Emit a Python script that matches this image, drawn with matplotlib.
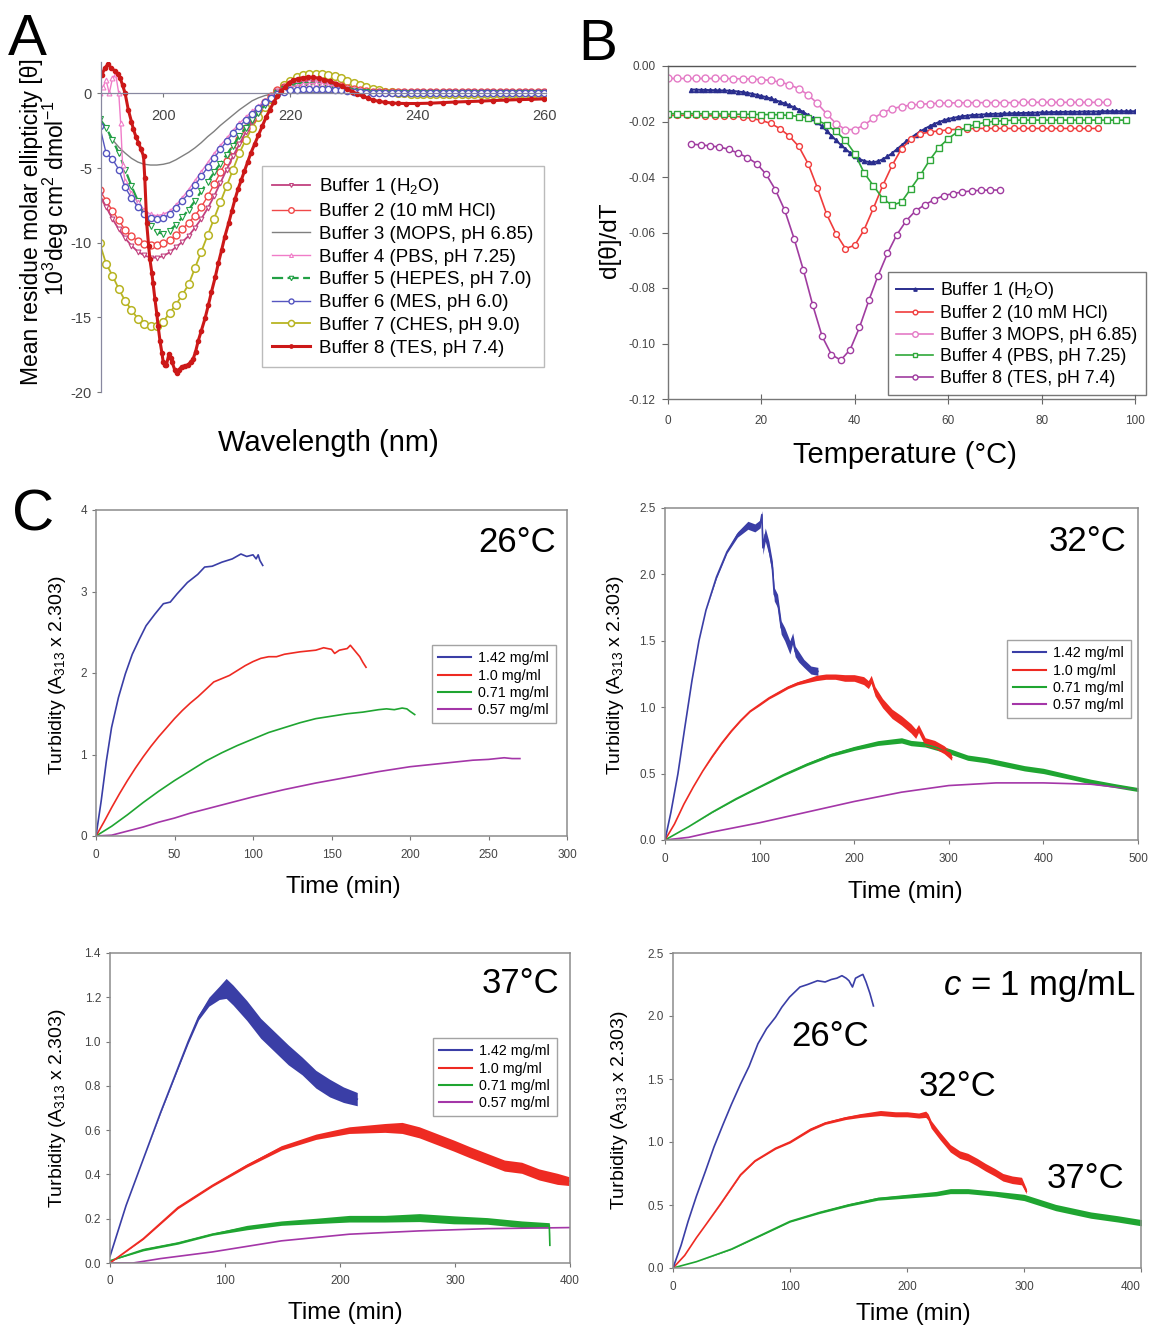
import numpy as np
import matplotlib
matplotlib.use('Agg')
import matplotlib.pyplot as plt
from matplotlib.lines import Line2D
from matplotlib.ticker import FormatStrFormatter

plt.rcParams['font.family'] = ['Liberation Sans', 'DejaVu Sans']
plt.rcParams['axes.unicode_minus'] = False
plt.rcParams['mathtext.fontset'] = 'custom'
plt.rcParams['mathtext.rm'] = 'Liberation Sans'
plt.rcParams['mathtext.it'] = 'Liberation Sans:italic'
plt.rcParams['mathtext.bf'] = 'Liberation Sans:bold'

# ---------------- Panel A data (CD spectra) ----------------
wavelength = np.arange(190, 261)
a_labels = ['Buffer 1 (H$_2$O)', 'Buffer 2 (10 mM HCl)', 'Buffer 3 (MOPS, pH 6.85)',
            'Buffer 4 (PBS, pH 7.25)', 'Buffer 5 (HEPES, pH 7.0)', 'Buffer 6 (MES, pH 6.0)',
            'Buffer 7 (CHES, pH 9.0)', 'Buffer 8 (TES, pH 7.4)']
a_buf1 = [-6.8, -7.6, -8.4, -9.1, -9.7, -10.2, -10.6, -10.85, -11.0, -11.0,
          -10.9, -10.65, -10.3, -9.95, -9.55, -9.0, -8.4, -7.7, -6.9, -6.0,
          -5.1, -4.2, -3.4, -2.6, -1.9, -1.3, -0.7, -0.25, 0.15, 0.4,
          0.55, 0.65, 0.72, 0.75, 0.75, 0.7, 0.62, 0.52, 0.42, 0.32,
          0.24, 0.16, 0.11, 0.08, 0.06, 0.05, 0.05, 0.05, 0.06, 0.06,
          0.06, 0.06, 0.07, 0.07, 0.07, 0.07, 0.07, 0.08, 0.08, 0.08,
          0.08, 0.08, 0.08, 0.08, 0.08, 0.09, 0.09, 0.09, 0.09, 0.09, 0.09]
a_buf2 = [-6.45, -7.2, -7.85, -8.5, -9.15, -9.55, -9.9, -10.1, -10.15, -10.15,
          -10.05, -9.85, -9.5, -9.1, -8.65, -8.2, -7.6, -6.9, -6.1, -5.3,
          -4.5, -3.8, -3.05, -2.35, -1.7, -1.1, -0.6, -0.15, 0.2, 0.45,
          0.62, 0.72, 0.78, 0.8, 0.8, 0.75, 0.68, 0.58, 0.48, 0.38,
          0.28, 0.2, 0.14, 0.1, 0.08, 0.07, 0.07, 0.07, 0.08, 0.08,
          0.08, 0.08, 0.09, 0.09, 0.09, 0.09, 0.09, 0.1, 0.1, 0.1,
          0.1, 0.1, 0.1, 0.1, 0.1, 0.11, 0.11, 0.11, 0.11, 0.11, 0.11]
a_buf3_wl = [191.5, 192, 193, 194, 195, 196, 197, 198, 199, 200, 201, 202, 203, 204, 205,
             206, 207, 208, 209, 210, 211, 212, 213, 214, 215, 216, 217, 218, 220, 225,
             230, 240, 250, 260]
a_buf3 = [-2.8, -3.1, -3.6, -4.0, -4.35, -4.6, -4.75, -4.8, -4.8, -4.75, -4.65, -4.45, -4.2,
          -3.95, -3.65, -3.3, -2.9, -2.55, -2.15, -1.8, -1.45, -1.1, -0.8, -0.5, -0.3, -0.15,
          -0.05, 0.0, 0.02, 0.05, 0.03, 0.02, 0.02, 0.02]
a_buf4_wl = [190, 190.5, 191, 191.5, 192, 192.5, 193, 193.3, 193.6] + list(range(194, 261))
a_buf4 = [0.0, 0.4, 0.9, 0.0, 1.0, 1.3, 0.0, -2.0, -4.8,
          -5.9, -6.7, -7.3, -7.8, -8.1, -8.2,
          -8.1, -7.9, -7.5, -7.0, -6.45, -5.85, -5.25, -4.65, -4.05, -3.5,
          -3.0, -2.5, -2.0, -1.6, -1.2, -0.85, -0.5, -0.2, 0.1, 0.28,
          0.42, 0.52, 0.6, 0.65, 0.68, 0.65, 0.58, 0.48, 0.38, 0.28,
          0.2, 0.14, 0.1, 0.07, 0.06, 0.06, 0.06, 0.06, 0.07, 0.07,
          0.07, 0.07, 0.07, 0.07, 0.07, 0.07, 0.07, 0.07, 0.07, 0.07,
          0.08, 0.08, 0.08, 0.08, 0.08, 0.08, 0.08, 0.08, 0.08, 0.08, 0.08]
a_buf5 = [-1.7, -2.3, -3.1, -4.0, -5.1, -6.2, -7.2, -8.1, -8.85, -9.3,
          -9.4, -9.2, -8.8, -8.3, -7.8, -7.2, -6.55, -5.95, -5.3, -4.7,
          -4.1, -3.5, -2.85, -2.3, -1.8, -1.3, -0.8, -0.35, 0.05, 0.3,
          0.45, 0.52, 0.56, 0.57, 0.56, 0.52, 0.45, 0.38, 0.3, 0.22,
          0.16, 0.11, 0.08, 0.05, 0.04, 0.03, 0.03, 0.03, 0.03, 0.03,
          0.03, 0.03, 0.03, 0.03, 0.03, 0.03, 0.03, 0.03, 0.03, 0.03,
          0.03, 0.03, 0.03, 0.03, 0.03, 0.03, 0.03, 0.03, 0.03, 0.03, 0.03]
a_buf6 = [-2.2, -4.0, -4.4, -5.1, -6.3, -7.0, -7.6, -8.05, -8.35, -8.4,
          -8.35, -8.1, -7.65, -7.2, -6.7, -6.15, -5.55, -4.95, -4.35, -3.75,
          -3.2, -2.65, -2.2, -1.8, -1.35, -0.95, -0.6, -0.3, -0.05, 0.1,
          0.2, 0.25, 0.28, 0.3, 0.3, 0.3, 0.28, 0.25, 0.2, 0.15,
          0.1, 0.07, 0.05, 0.04, 0.03, 0.03, 0.03, 0.03, 0.03, 0.03,
          0.03, 0.03, 0.03, 0.04, 0.04, 0.04, 0.04, 0.04, 0.04, 0.04,
          0.04, 0.04, 0.04, 0.04, 0.04, 0.04, 0.04, 0.04, 0.04, 0.04, 0.04]
a_buf7 = [-10.05, -11.4, -12.2, -13.1, -13.9, -14.5, -15.1, -15.45, -15.6, -15.6,
          -15.3, -14.7, -14.15, -13.5, -12.8, -11.7, -10.6, -9.5, -8.4, -7.3,
          -6.2, -5.1, -4.0, -3.1, -2.3, -1.55, -0.9, -0.35, 0.15, 0.55,
          0.85, 1.07, 1.2, 1.27, 1.3, 1.28, 1.23, 1.13, 1.0, 0.86,
          0.7, 0.55, 0.42, 0.3, 0.2, 0.12, 0.06, 0.02, 0.0, -0.02,
          -0.03, -0.03, -0.03, -0.03, -0.03, -0.02, -0.02, -0.02, -0.02, -0.02,
          -0.02, -0.02, -0.02, -0.01, -0.01, -0.01, -0.01, -0.01, -0.01, -0.01, -0.01]
a_buf8_wl = [190.3, 190.8, 191.3, 191.8, 192.4, 192.9, 193.2, 193.6, 194.0, 194.5, 195.0, 195.3,
             195.7, 196.1, 196.5, 196.9, 197.1, 197.4, 197.7, 197.9, 198.2, 198.4, 198.7, 199.0,
             199.2, 199.5, 199.8, 200.0, 200.3, 200.5, 200.9, 201.2, 201.4, 201.8, 202.1, 202.5,
             202.9, 203.4, 203.9, 204.3, 204.7, 205.1, 205.5, 206.0, 206.6, 207.1, 207.6, 208.2,
             208.7, 209.2, 209.7, 210.3, 210.8, 211.3, 211.8, 212.3, 212.8, 213.3, 213.8, 214.4,
             215.0, 215.6, 216.2, 216.8, 217.4, 218.0, 218.6, 219.2, 219.8, 220.5, 221.2, 222.0,
             222.8, 223.6, 224.5, 225.4, 226.3, 227.2, 228.1, 229.0, 229.8, 230.6, 231.5, 232.3,
             233.1, 234.0, 235.0, 236.0, 237.0, 238.3, 240, 242, 244, 246, 248, 250, 252, 254,
             256, 258, 260]
a_buf8 = [1.2, 1.7, 1.95, 1.7, 1.5, 1.3, 1.05, 0.55, 0.0, -1.1, -1.9, -2.4,
          -2.9, -3.3, -3.75, -4.2, -5.7, -8.7, -10.2, -11.1, -12.0, -12.7, -13.8, -14.8,
          -15.6, -16.6, -17.4, -18.0, -18.2, -18.2, -17.45, -17.7, -18.0, -18.5, -18.75, -18.5,
          -18.3, -18.25, -18.2, -18.0, -17.8, -17.3, -16.6, -15.9, -15.05, -14.2, -13.3, -12.3,
          -11.35, -10.5, -9.6, -8.7, -7.9, -7.1, -6.4, -5.8, -5.2, -4.6, -4.0, -3.4,
          -2.8, -2.2, -1.6, -1.1, -0.6, -0.2, 0.15, 0.45, 0.7, 0.88, 0.98, 1.05,
          1.08, 1.07, 1.02, 0.92, 0.8, 0.65, 0.48, 0.3, 0.12, -0.05, -0.2, -0.33,
          -0.45, -0.54, -0.6, -0.64, -0.67, -0.68, -0.68, -0.66, -0.62, -0.58, -0.55, -0.52, -0.48, -0.45,
          -0.42, -0.4, -0.37]

# ---------------- Panel B data (d[theta]/dT) ----------------
b_labels = ['Buffer 1 (H$_2$O)', 'Buffer 2 (10 mM HCl)', 'Buffer 3 MOPS, pH 6.85)',
            'Buffer 4 (PBS, pH 7.25)', 'Buffer 8 (TES, pH 7.4)']
b_t1 = np.arange(5, 101)
b_buf1 = [-0.0085, -0.0085, -0.0086, -0.0086, -0.0087, -0.0087, -0.0088, -0.0088, -0.0089, -0.0090,
          -0.0092, -0.0094, -0.0097, -0.0100, -0.0104, -0.0108, -0.0112, -0.0117, -0.0123, -0.0129,
          -0.0135, -0.0142, -0.0149, -0.0157, -0.0166, -0.0177, -0.0189, -0.0203, -0.0218, -0.0234,
          -0.0251, -0.0268, -0.0284, -0.0299, -0.0313, -0.0325, -0.0335, -0.0342, -0.0346, -0.0347,
          -0.0343, -0.0336, -0.0326, -0.0314, -0.0300, -0.0286, -0.0272, -0.0259, -0.0247, -0.0236,
          -0.0226, -0.0217, -0.0209, -0.0202, -0.0196, -0.0191, -0.0187, -0.0184, -0.0181, -0.0179,
          -0.0177, -0.0176, -0.0175, -0.0174, -0.0173, -0.0172, -0.0172, -0.0171, -0.0171, -0.0170,
          -0.0170, -0.0169, -0.0169, -0.0168, -0.0168, -0.0167, -0.0167, -0.0166, -0.0166, -0.0166,
          -0.0165, -0.0165, -0.0165, -0.0165, -0.0164, -0.0164, -0.0164, -0.0164, -0.0163, -0.0163,
          -0.0163, -0.0163, -0.0163, -0.0163, -0.0163, -0.0163]
b_t2 = np.arange(0, 93, 2)
b_buf2 = [-0.0178, -0.0178, -0.0178, -0.0178, -0.0179, -0.0179, -0.0180, -0.0181, -0.0184, -0.0189,
          -0.0196, -0.0207, -0.0226, -0.0253, -0.0290, -0.0352, -0.0440, -0.0535, -0.0605, -0.0658,
          -0.0646, -0.0590, -0.0512, -0.0430, -0.0358, -0.0298, -0.0264, -0.0245, -0.0238, -0.0234,
          -0.0230, -0.0228, -0.0226, -0.0225, -0.0225, -0.0225, -0.0225, -0.0225, -0.0225, -0.0225,
          -0.0225, -0.0225, -0.0225, -0.0225, -0.0225, -0.0225, -0.0225]
b_t3 = np.arange(0, 95, 2)
b_buf3 = [-0.0045, -0.0045, -0.0045, -0.0045, -0.0045, -0.0045, -0.0045, -0.0046, -0.0046, -0.0047,
          -0.0049, -0.0052, -0.0058, -0.0067, -0.0082, -0.0104, -0.0135, -0.0173, -0.0208, -0.0229,
          -0.0229, -0.0213, -0.0188, -0.0168, -0.0154, -0.0146, -0.0141, -0.0138, -0.0136, -0.0134,
          -0.0133, -0.0133, -0.0132, -0.0132, -0.0132, -0.0132, -0.0132, -0.0132, -0.0131, -0.0131,
          -0.0131, -0.0131, -0.0131, -0.0131, -0.0131, -0.0131, -0.0131, -0.0131]
b_t4 = np.arange(0, 99, 2)
b_buf4 = [-0.0172, -0.0172, -0.0172, -0.0172, -0.0173, -0.0173, -0.0173, -0.0174, -0.0174, -0.0174,
          -0.0175, -0.0175, -0.0176, -0.0178, -0.0182, -0.0187, -0.0196, -0.0212, -0.0236, -0.0268,
          -0.0316, -0.0385, -0.0432, -0.0478, -0.0502, -0.0490, -0.0442, -0.0394, -0.0340, -0.0294,
          -0.0262, -0.0237, -0.0220, -0.0210, -0.0203, -0.0199, -0.0197, -0.0195, -0.0195, -0.0195,
          -0.0195, -0.0195, -0.0195, -0.0195, -0.0195, -0.0195, -0.0195, -0.0195, -0.0195, -0.0195]
b_t8 = np.arange(5, 72, 2)
b_buf8 = [-0.0282, -0.0284, -0.0288, -0.0292, -0.0300, -0.0314, -0.0330, -0.0352, -0.0390, -0.0446,
          -0.0520, -0.0622, -0.0736, -0.0862, -0.0974, -0.1040, -0.1060, -0.1022, -0.0942, -0.0845,
          -0.0755, -0.0675, -0.0608, -0.0558, -0.0522, -0.0500, -0.0482, -0.0467, -0.0460, -0.0454,
          -0.0450, -0.0448, -0.0447, -0.0447]

# ---------------- Panel C data (turbidity) ----------------
c_labels = ['1.42 mg/ml', '1.0 mg/ml', '0.71 mg/ml', '0.57 mg/ml']
# 26 C
c1_t_blue = [0, 3.3, 6.6, 9.9, 14.3, 18.7, 23.1, 27.5, 31.9, 37.4, 42.9, 47.3, 51.6, 58.2, 64.8,
             69.2, 74, 80.2, 86.8, 92.3, 96, 100, 102, 103.3, 104.4, 106.2]
c1_v_blue = [0, 0.43, 0.92, 1.33, 1.7, 1.99, 2.23, 2.41, 2.58, 2.72, 2.85, 2.87, 2.97, 3.11, 3.21,
             3.30, 3.31, 3.36, 3.40, 3.46, 3.43, 3.45, 3.40, 3.45, 3.38, 3.32]
c1_t_red = [0, 5, 10, 15, 20, 25, 30, 35, 40, 45, 50, 55, 60, 65, 70, 75, 80, 85, 90, 95, 100, 105,
            110, 115, 120, 130, 140, 145, 150, 152, 155, 160, 162, 165, 168, 170, 172]
c1_v_red = [0, 0.17, 0.35, 0.52, 0.68, 0.83, 0.97, 1.1, 1.22, 1.33, 1.44, 1.54, 1.63, 1.71, 1.8,
            1.89, 1.93, 1.97, 2.03, 2.09, 2.14, 2.18, 2.2, 2.2, 2.23, 2.26, 2.28, 2.31, 2.29, 2.24,
            2.28, 2.3, 2.34, 2.27, 2.2, 2.13, 2.07]
c1_t_green = [0, 10, 20, 30, 40, 50, 60, 70, 80, 90, 100, 110, 120, 130, 140, 150, 160, 170, 180,
              185, 190, 195, 198, 200, 203]
c1_v_green = [0, 0.12, 0.26, 0.41, 0.55, 0.68, 0.8, 0.92, 1.02, 1.11, 1.19, 1.27, 1.33, 1.39, 1.44,
              1.47, 1.5, 1.52, 1.55, 1.56, 1.55, 1.57, 1.56, 1.53, 1.49]
c1_t_purple = [0, 10, 20, 30, 40, 50, 60, 70, 80, 90, 100, 120, 140, 160, 180, 200, 220, 240, 250,
               260, 265, 270]
c1_v_purple = [0, 0.01, 0.06, 0.11, 0.17, 0.22, 0.28, 0.33, 0.38, 0.43, 0.48, 0.57, 0.65, 0.72,
               0.79, 0.85, 0.89, 0.93, 0.94, 0.96, 0.95, 0.95]
# 32 C
c2_t_blue = [0, 6.3, 13.7, 21, 28.5, 35.9, 43.3, 54.4, 65.5, 76.6, 87.6, 95, 100.6, 102.4, 103.5,
             106, 109.8, 113.5, 115.5, 119, 122.8, 126.5, 132, 135, 137.6, 141.3, 146.8, 154.2, 161.6]
c2_v_blue = [0, 0.21, 0.5, 0.85, 1.2, 1.5, 1.73, 1.98, 2.17, 2.3, 2.37, 2.35, 2.38, 2.45, 2.2,
             2.3, 2.2, 2.05, 1.85, 1.8, 1.6, 1.55, 1.45, 1.52, 1.42, 1.38, 1.33, 1.28, 1.27]
c2_n_blue = [0, 0, 0, 0, 0, 0, 0, 0.01, 0.01, 0.02, 0.03, 0.03, 0.03, 0.03, 0.05,
             0.05, 0.05, 0.05, 0.05, 0.05, 0.05, 0.05, 0.05, 0.04, 0.04, 0.04, 0.03, 0.03, 0.03]
c2_t_red = [0, 10, 20, 30, 40, 50, 60, 70, 80, 90, 100, 110, 120, 130, 140, 150, 160, 170, 180, 190,
            200, 210, 215, 218, 222, 230, 240, 250, 260, 265, 268, 275, 285, 295, 300, 303]
c2_v_red = [0, 0.12, 0.27, 0.4, 0.52, 0.63, 0.73, 0.82, 0.9, 0.97, 1.02, 1.07, 1.11, 1.15, 1.18,
            1.2, 1.22, 1.23, 1.23, 1.22, 1.22, 1.2, 1.17, 1.21, 1.12, 1.03, 0.95, 0.9, 0.84, 0.8,
            0.84, 0.74, 0.72, 0.68, 0.65, 0.62]
c2_n_red = [0, 0, 0, 0, 0, 0.005, 0.005, 0.005, 0.005, 0.005, 0.008, 0.008, 0.01, 0.01, 0.012,
            0.015, 0.02, 0.02, 0.02, 0.025, 0.025, 0.03, 0.03, 0.03, 0.035, 0.035, 0.035, 0.035,
            0.035, 0.035, 0.03, 0.03, 0.03, 0.03, 0.03, 0.02]
c2_t_green = [0, 25, 50, 75, 100, 125, 150, 175, 200, 225, 250, 260, 275, 300, 320, 340, 360, 380,
              400, 425, 450, 475, 500]
c2_v_green = [0, 0.1, 0.21, 0.31, 0.4, 0.49, 0.57, 0.64, 0.69, 0.73, 0.75, 0.73, 0.72, 0.67, 0.62,
              0.6, 0.57, 0.54, 0.52, 0.48, 0.44, 0.41, 0.38]
c2_n_green = [0, 0, 0.003, 0.005, 0.005, 0.008, 0.01, 0.012, 0.015, 0.018, 0.02, 0.02, 0.02, 0.02,
              0.02, 0.02, 0.02, 0.02, 0.02, 0.018, 0.018, 0.015, 0.015]
c2_t_purple = [0, 25, 50, 100, 150, 200, 250, 300, 350, 400, 450, 500]
c2_v_purple = [0, 0.02, 0.06, 0.13, 0.21, 0.29, 0.36, 0.41, 0.43, 0.43, 0.42, 0.38]
# 37 C
c3_t_blue = [0, 14, 29, 44, 59, 68, 77, 86, 95, 101, 107, 119, 131, 143, 155, 167, 179, 191, 203, 215]
c3_v_blue = [0.03, 0.26, 0.47, 0.68, 0.88, 1.0, 1.11, 1.18, 1.22, 1.24, 1.21, 1.14, 1.06, 1.0, 0.94,
             0.89, 0.83, 0.79, 0.76, 0.74]
c3_n_blue = [0, 0, 0, 0.003, 0.005, 0.008, 0.012, 0.02, 0.03, 0.045, 0.045, 0.045, 0.045, 0.045,
             0.045, 0.04, 0.04, 0.04, 0.035, 0.03]
c3_t_red = [0, 29, 59, 89, 119, 149, 179, 208, 239, 254, 269, 284, 299, 313, 328, 343, 358, 373, 389, 399]
c3_v_red = [0, 0.11, 0.25, 0.35, 0.44, 0.52, 0.57, 0.6, 0.61, 0.61, 0.59, 0.56, 0.53, 0.5, 0.47,
            0.44, 0.43, 0.4, 0.38, 0.37]
c3_n_red = [0, 0.003, 0.005, 0.005, 0.007, 0.01, 0.012, 0.015, 0.02, 0.025, 0.025, 0.025, 0.025,
            0.025, 0.025, 0.025, 0.025, 0.025, 0.025, 0.02]
c3_t_green = [0, 29, 59, 89, 119, 149, 179, 208, 239, 269, 299, 328, 358, 382, 382.5]
c3_v_green = [0.01, 0.06, 0.09, 0.13, 0.16, 0.18, 0.19, 0.2, 0.2, 0.205, 0.195, 0.19, 0.175, 0.17, 0.08]
c3_n_green = [0, 0.005, 0.005, 0.005, 0.01, 0.01, 0.012, 0.015, 0.015, 0.018, 0.018, 0.015, 0.015,
              0.012, 0]
c3_t_purple = [0, 20, 44, 89, 149, 208, 269, 328, 400]
c3_v_purple = [0, 0, 0.02, 0.05, 0.1, 0.13, 0.145, 0.155, 0.16]
# c = 1 mg/mL at three temperatures
c4_t_26 = [0, 6.9, 12.9, 20, 27.8, 35, 42.8, 50, 57.7, 65, 72.6, 80, 87.6, 93, 99.6, 108.5, 115,
           123.5, 130, 135.4, 140, 144.4, 148, 150.4, 153.4, 156, 160, 162.3, 165, 168.3, 171.3]
c4_v_26 = [0, 0.18, 0.37, 0.57, 0.77, 0.96, 1.14, 1.3, 1.46, 1.6, 1.78, 1.9, 1.99, 2.07, 2.15,
           2.23, 2.25, 2.28, 2.27, 2.29, 2.3, 2.32, 2.3, 2.28, 2.23, 2.3, 2.32, 2.33, 2.27, 2.18, 2.08]
c4_t_32 = [0, 10, 20, 27.8, 40, 57.7, 70, 87.6, 100, 117.5, 130, 147.4, 160, 177.3, 190, 200, 210,
           216, 218, 220.6, 228, 237, 245, 252, 260, 267, 275, 282, 290, 297.9, 302]
c4_v_32 = [0, 0.1, 0.24, 0.34, 0.5, 0.74, 0.85, 0.95, 1.0, 1.1, 1.15, 1.19, 1.21, 1.23, 1.22, 1.22,
           1.21, 1.22, 1.2, 1.14, 1.05, 0.95, 0.9, 0.88, 0.84, 0.8, 0.76, 0.72, 0.7, 0.69, 0.61]
c4_n_32 = [0, 0, 0, 0, 0.003, 0.005, 0.005, 0.007, 0.008, 0.01, 0.01, 0.012, 0.015, 0.02, 0.02,
           0.02, 0.02, 0.025, 0.025, 0.03, 0.03, 0.03, 0.03, 0.03, 0.03, 0.03, 0.03, 0.03, 0.03,
           0.03, 0.02]
c4_t_37 = [0, 20, 50, 75, 100, 125, 150, 175, 200, 225, 237, 252, 275, 300, 327, 357, 380, 400, 405]
c4_v_37 = [0, 0.05, 0.15, 0.26, 0.37, 0.44, 0.5, 0.55, 0.57, 0.59, 0.61, 0.61, 0.59, 0.56, 0.48,
           0.42, 0.39, 0.36, 0.37]
c4_n_37 = [0, 0, 0.003, 0.005, 0.006, 0.008, 0.01, 0.012, 0.015, 0.018, 0.02, 0.02, 0.02, 0.025,
           0.025, 0.025, 0.025, 0.025, 0.02]

# ---------------- figure ----------------
W, H = 1151, 1328
fig = plt.figure(figsize=(W / 100, H / 100), dpi=100)


def rect(l, t, r, b):
    return [l / W, 1 - b / H, (r - l) / W, (b - t) / H]


def fx(x):
    return x / W


def fy(y):
    return 1 - y / H


TICKC = '#444444'

# ---------- Panel A ----------
axA = fig.add_axes(rect(101, 62, 546, 392))
col = {1: '#c2417f', 2: '#f04848', 3: '#7f7f7f', 4: '#f07cc8', 5: '#22a045',
       6: '#5555c0', 7: '#b8b422', 8: '#cc1818'}
h3, = axA.plot(a_buf3_wl, a_buf3, color=col[3], lw=1.0)
h7, = axA.plot(wavelength, a_buf7, color=col[7], lw=1.3, marker='o', ms=5.5, mfc='white',
               mec=col[7], mew=1.1)
h2, = axA.plot(wavelength, a_buf2, color=col[2], lw=1.0, marker='o', ms=5, mfc='white',
               mec=col[2], mew=1.0)
h1, = axA.plot(wavelength, a_buf1, color=col[1], lw=1.3, marker='v', ms=3.5, mfc='white',
               mec=col[1], mew=0.8)
h5, = axA.plot(wavelength, a_buf5, color=col[5], lw=1.6, ls=(0, (5, 2)), marker='v', ms=4,
               mfc='white', mec=col[5], mew=0.8)
h4, = axA.plot(a_buf4_wl, a_buf4, color=col[4], lw=1.0, marker='^', ms=3.5, mfc='white',
               mec=col[4], mew=0.8)
h6, = axA.plot(wavelength, a_buf6, color=col[6], lw=1.0, marker='o', ms=4.5, mfc='white',
               mec=col[6], mew=1.0)
h8, = axA.plot(a_buf8_wl, a_buf8, color=col[8], lw=2.2, marker='o', ms=3, mfc=col[8],
               mec=col[8])
axA.set_xlim(190.2, 260.3)
axA.set_ylim(-20, 2.1)
for s in ['top', 'right']:
    axA.spines[s].set_visible(False)
axA.spines['bottom'].set_position(('data', 0))
for s in ['left', 'bottom']:
    axA.spines[s].set_color('#8888a0')
    axA.spines[s].set_linewidth(0.9)
axA.set_xticks([200, 220, 240, 260])
axA.set_yticks([0, -5, -10, -15, -20])
axA.tick_params(axis='both', colors='#777777', labelcolor=TICKC, labelsize=10.5, length=3,
                width=0.8)
axA.tick_params(axis='x', pad=8)
axA.set_zorder(1)
legA = fig.legend([h1, h2, h3, h4, h5, h6, h7, h8], a_labels, loc='upper left',
                  bbox_to_anchor=(fx(262), fy(166)), bbox_transform=fig.transFigure,
                  borderaxespad=0, fontsize=13.5, frameon=True, fancybox=False,
                  edgecolor='#aaaaaa', handlelength=2.0, labelspacing=0.3, borderpad=0.55,
                  handletextpad=0.5, markerscale=0.8)
legA.get_frame().set_linewidth(1.0)
fig.text(fx(328), fy(443), 'Wavelength (nm)', fontsize=21, ha='center', va='center')
fig.text(fx(32), fy(222), 'Mean residue molar ellipticity [θ]', fontsize=16.5, rotation=90,
         ha='center', va='center')
fig.text(fx(56), fy(198), '10$^3$deg cm$^2$ dmol$^{-1}$', fontsize=16.5, rotation=90,
         ha='center', va='center')
fig.text(fx(8), fy(55), 'A', fontsize=42)

# ---------- Panel B ----------
axB = fig.add_axes(rect(668, 66, 1135, 399))
bc = {1: '#2a2e8e', 2: '#f03c3c', 3: '#e47ac6', 4: '#2fa83a', 8: '#a03ca0'}
g1, = axB.plot(b_t1, b_buf1, color=bc[1], lw=1.4, marker='^', ms=3, mfc=bc[1], mec=bc[1])
g2, = axB.plot(b_t2, b_buf2, color=bc[2], lw=1.2, marker='o', ms=4.2, mfc='white', mec=bc[2],
               mew=1.0)
g3, = axB.plot(b_t3, b_buf3, color=bc[3], lw=1.2, marker='o', ms=5, mfc='white', mec=bc[3],
               mew=1.0)
g4, = axB.plot(b_t4, b_buf4, color=bc[4], lw=1.2, marker='s', ms=4.2, mfc='white', mec=bc[4],
               mew=1.0)
g8, = axB.plot(b_t8, b_buf8, color=bc[8], lw=1.2, marker='o', ms=4.5, mfc='white', mec=bc[8],
               mew=1.0)
axB.set_xlim(0, 100)
axB.set_ylim(-0.12, 0.0)
axB.spines['right'].set_visible(False)
axB.spines['top'].set_color('#555555')
for s in ['left', 'bottom']:
    axB.spines[s].set_color('#777777')
for s in ['left', 'bottom', 'top']:
    axB.spines[s].set_linewidth(1.0)
axB.set_xticks([0, 20, 40, 60, 80, 100])
axB.set_yticks([0.0, -0.02, -0.04, -0.06, -0.08, -0.10, -0.12])
axB.yaxis.set_major_formatter(FormatStrFormatter('%.2f'))
axB.tick_params(axis='both', colors='#666666', labelcolor=TICKC, labelsize=8.5, width=0.8)
axB.tick_params(axis='x', direction='inout', length=7, pad=8)
axB.tick_params(axis='y', direction='out', length=4, pad=5)
legB = fig.legend([g1, g2, g3, g4, g8], b_labels, loc='upper left',
                  bbox_to_anchor=(fx(888), fy(272)), bbox_transform=fig.transFigure,
                  borderaxespad=0, fontsize=12.8, frameon=True, fancybox=False,
                  edgecolor='#555555', handlelength=2.1, labelspacing=0.25, borderpad=0.45,
                  handletextpad=0.4, markerscale=0.8)
fig.text(fx(905), fy(455), 'Temperature (°C)', fontsize=21, ha='center', va='center')
fig.text(fx(610), fy(240), 'd[θ]/dT', fontsize=17.5, rotation=90, ha='center', va='center')
fig.text(fx(578), fy(60), 'B', fontsize=42)

# ---------- Panel C ----------
CB, CR, CG, CP = '#3a3ea6', '#ee2a22', '#1fa531', '#a436a8'


def panel_c(r, xlim, xticks, ylim, yticks, yfmt, series, tlabel, ylab_xy, xlab_xy,
            legend_xy=None):
    ax = fig.add_axes(rect(*r))
    for t, v, n, c in series:
        t = np.asarray(t)
        v = np.asarray(v)
        ax.plot(t, v, color=c, lw=1.2)
        if n is not None:
            n = np.asarray(n)
            ax.fill_between(t, v - n, v + n, color=c, lw=0)
    ax.set_xlim(*xlim)
    ax.set_ylim(*ylim)
    ax.set_xticks(xticks)
    ax.set_yticks(yticks)
    ax.yaxis.set_major_formatter(FormatStrFormatter(yfmt))
    for s in ax.spines.values():
        s.set_color('#8c8c8c')
        s.set_linewidth(1.1)
    ax.tick_params(axis='both', colors='#777777', labelcolor=TICKC, labelsize=8.5, length=3,
                   width=0.8, direction='out')
    ax.tick_params(axis='x', pad=6)
    if tlabel is not None:
        ax.text(0.893, 0.9, tlabel, transform=ax.transAxes, fontsize=25, ha='center',
                va='center')
    if legend_xy is not None:
        handles = [Line2D([], [], color=c, lw=1.5) for c in (CB, CR, CG, CP)]
        lg = fig.legend(handles, c_labels, loc='upper left',
                        bbox_to_anchor=(fx(legend_xy[0]), fy(legend_xy[1])),
                        bbox_transform=fig.transFigure, borderaxespad=0, fontsize=10.3,
                        frameon=True, fancybox=False, edgecolor='#8c8c8c', handlelength=2.3,
                        labelspacing=0.22, borderpad=0.45, handletextpad=0.5)
        lg.get_frame().set_linewidth(1.0)
    fig.text(fx(xlab_xy[0]), fy(xlab_xy[1]), 'Time (min)', fontsize=17.5, ha='center',
             va='center')
    fig.text(fx(ylab_xy[0]), fy(ylab_xy[1]), 'Turbidity (A$_{313}$ x 2.303)', fontsize=14,
             rotation=90, ha='center', va='center')
    return ax


ax1 = panel_c((96, 510, 567, 836), (0, 300), [0, 50, 100, 150, 200, 250, 300], (0, 4),
              [0, 1, 2, 3, 4], '%d',
              [(c1_t_purple, c1_v_purple, None, CP), (c1_t_green, c1_v_green, None, CG),
               (c1_t_red, c1_v_red, None, CR), (c1_t_blue, c1_v_blue, None, CB)],
              '26°C', (57, 675), (343, 887), legend_xy=(432, 645))
ax2 = panel_c((665, 508, 1138, 840), (0, 500), [0, 100, 200, 300, 400, 500], (0, 2.5),
              [0, 0.5, 1.0, 1.5, 2.0, 2.5], '%.1f',
              [(c2_t_purple, c2_v_purple, None, CP), (c2_t_green, c2_v_green, c2_n_green, CG),
               (c2_t_red, c2_v_red, c2_n_red, CR), (c2_t_blue, c2_v_blue, c2_n_blue, CB)],
              '32°C', (615, 675), (905, 892), legend_xy=(1007, 640))
ax3 = panel_c((110, 953, 570, 1263), (0, 400), [0, 100, 200, 300, 400], (0, 1.4),
              [0, 0.2, 0.4, 0.6, 0.8, 1.0, 1.2, 1.4], '%.1f',
              [(c3_t_purple, c3_v_purple, None, CP), (c3_t_green, c3_v_green, c3_n_green, CG),
               (c3_t_red, c3_v_red, c3_n_red, CR), (c3_t_blue, c3_v_blue, c3_n_blue, CB)],
              '37°C', (57, 1108), (345, 1313), legend_xy=(433, 1038))
ax4 = panel_c((673, 953, 1141, 1268), (0, 400), [0, 100, 200, 300, 400], (0, 2.5),
              [0, 0.5, 1.0, 1.5, 2.0, 2.5], '%.1f',
              [(c4_t_37, c4_v_37, c4_n_37, CG), (c4_t_32, c4_v_32, c4_n_32, CR),
               (c4_t_26, c4_v_26, None, CB)],
              None, (620, 1110), (913, 1314))
ax4.get_xticklabels()[-1].set_horizontalalignment('right')
fig.text(fx(1040), fy(985), '$c$ = 1 mg/mL', fontsize=25, ha='center', va='center')
fig.text(fx(830), fy(1037), '26°C', fontsize=25, ha='center', va='center')
fig.text(fx(958), fy(1087), '32°C', fontsize=25, ha='center', va='center')
fig.text(fx(1085), fy(1178), '37°C', fontsize=25, ha='center', va='center')
fig.text(fx(12), fy(530), 'C', fontsize=42)

fig.savefig('out.png', dpi=100, facecolor='white')
